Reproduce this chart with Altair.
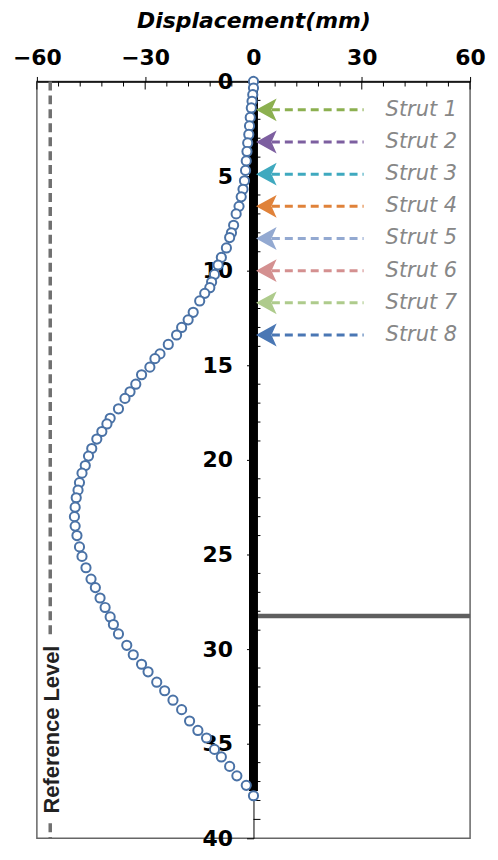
import altair as alt
import pandas as pd

# ---- data ----
depth = [0.0, 0.35, 0.7, 1.05, 1.4, 1.9, 2.35, 2.8, 3.25, 3.7, 4.2, 4.7, 5.25, 5.7, 6.1,
         6.6, 7.0, 7.6, 8.0, 8.25, 8.8, 9.3, 9.7, 10.2, 10.6, 10.9, 11.2, 11.6, 12.2, 12.6,
         13.0, 13.4, 13.9, 14.4, 14.65, 15.1, 15.5, 16.0, 16.4, 16.75, 17.3, 17.8, 18.1,
         18.5, 18.9, 19.4, 19.8, 20.3, 20.7, 21.2, 21.6, 22.0, 22.5, 23.0, 23.5, 24.0, 24.6,
         25.1, 25.7, 26.3, 26.75, 27.3, 27.8, 28.3, 28.7, 29.2, 29.8, 30.3, 30.8, 31.2,
         31.75, 32.2, 32.7, 33.2, 33.8, 34.3, 34.7, 35.3, 35.7, 36.2, 36.7, 37.2, 37.75]
disp = [0.0, 0.0, -0.2, -0.4, -0.6, -0.9, -1.1, -1.3, -1.6, -1.8, -2.0, -2.2, -2.5, -2.9, -3.4,
        -4.0, -4.8, -5.5, -6.1, -6.6, -7.5, -8.9, -9.8, -10.8, -11.6, -12.1, -13.5, -14.9, -16.7, -18.1,
        -19.9, -21.3, -23.6, -25.9, -27.3, -28.7, -31.0, -32.6, -34.2, -35.6, -37.4, -39.7, -40.6,
        -42.0, -43.4, -44.8, -45.7, -46.6, -47.5, -48.2, -48.6, -49.1, -49.4, -49.6, -49.4, -48.9, -48.2,
        -47.5, -46.4, -45.0, -43.8, -42.5, -41.1, -39.7, -38.8, -37.4, -35.1, -33.3, -31.0, -29.2,
        -26.8, -24.6, -22.3, -19.9, -17.7, -15.4, -13.0, -10.8, -8.9, -6.6, -4.6, -2.0, 0.0]

strut_names = ["Strut 1", "Strut 2", "Strut 3", "Strut 4", "Strut 5", "Strut 6", "Strut 7", "Strut 8"]
strut_depths = [1.5, 3.2, 4.9, 6.6, 8.3, 10.0, 11.7, 13.4]
strut_colors = ["#8cb050", "#7d5fa0", "#3fa9bf", "#e0823a", "#93a9d1", "#d49090", "#aecb8c", "#4a77b4"]

x_major = [-60, -30, 0, 30, 60]
x_minor = [-54, -48, -42, -36, -24, -18, -12, -6, 6, 12, 18, 24, 36, 42, 48, 54]
y_major = [0, 5, 10, 15, 20, 25, 30, 35, 40]
y_minor = [1, 2, 3, 4, 6, 7, 8, 9, 11, 12, 13, 14, 16, 17, 18, 19, 21, 22, 23, 24,
           26, 27, 28, 29, 31, 32, 33, 34, 36, 37, 38, 39]

wall_top, wall_bottom = 0.0, 37.5
excavation_depth = 28.25
ref_x = -56.3
ref_seg_start = [0.0, 39.2]
ref_seg_end = [29.4, 40.0]
ref_label_depth = 34.25
ref_label_x = -55.9

arrow_x = 3.56
dash_x_start = 5.1
dash_x_end = 30.5
label_x = 36.6

W, H = 435, 760
xs = alt.Scale(domain=[-60, 60], nice=False, zero=False)
ys = alt.Scale(domain=[0, 40], nice=False, zero=False, reverse=True)

x_axis = alt.Axis(
    orient="top", values=x_major, format="d", grid=False,
    labelFont="DejaVu Sans", labelFontSize=22, labelFontWeight="bold", labelColor="black",
    labelFlush=False, labelPadding=7, tickSize=5, tickColor="black",
    domainColor="black", domainWidth=1.5,
    title="Displacement(mm)", titleFont="DejaVu Sans", titleFontSize=22,
    titleFontWeight="bold", titleFontStyle="italic", titleColor="black",
    titleBaseline="alphabetic", titleY=-54)
y_axis = alt.Axis(
    orient="left", offset=-217.5, values=y_major, format="d", grid=False,
    labelFont="DejaVu Sans", labelFontSize=22, labelFontWeight="bold", labelColor="black",
    labelFlush=False, labelPadding=14, tickSize=7, tickColor="black",
    domainColor="black", domainWidth=1, title=None)


def X(f):
    return alt.X(f, scale=xs, axis=x_axis)


def Y(f):
    return alt.Y(f, scale=ys, axis=y_axis)


pts = pd.DataFrame({"depth": depth, "disp": disp})
struts = pd.DataFrame({"name": strut_names, "depth": strut_depths, "color": strut_colors,
                       "ax": arrow_x, "d0": dash_x_start, "d1": dash_x_end, "lx": label_x})

circles = alt.Chart(pts).mark_point(
    shape="circle", filled=True, fill="white", stroke="#4a72a6", strokeWidth=2,
    size=85, opacity=1
).encode(x=X("disp:Q"), y=Y("depth:Q"))

wall = alt.Chart(pd.DataFrame({"x": [0.0], "y": [wall_top], "y2": [wall_bottom]})).mark_rule(
    color="black", strokeWidth=9
).encode(x=X("x:Q"), y=Y("y:Q"), y2="y2:Q")

exc = alt.Chart(pd.DataFrame({"x": [0.0], "x2": [60.0], "y": [excavation_depth]})).mark_rule(
    color="#5f5f5f", strokeWidth=4.5
).encode(x=X("x:Q"), x2="x2:Q", y=Y("y:Q"))

ref = alt.Chart(pd.DataFrame({"x": [ref_x, ref_x], "y": ref_seg_start, "y2": ref_seg_end})).mark_rule(
    color="#707070", strokeWidth=3.5, strokeDash=[9, 5]
).encode(x=X("x:Q"), y=Y("y:Q"), y2="y2:Q")

ref_text = alt.Chart(pd.DataFrame({"x": [ref_label_x], "y": [ref_label_depth], "t": ["Reference Level"]})).mark_text(
    angle=270, align="center", baseline="middle", font="Liberation Sans", fontSize=22,
    fontWeight="bold", color="#222222"
).encode(x=X("x:Q"), y=Y("y:Q"), text="t:N")

xminor = alt.Chart(pd.DataFrame({"x": x_minor})).mark_tick(
    orient="vertical", size=5, thickness=1, color="black", yOffset=2.5, opacity=1
).encode(x=X("x:Q"), y=alt.value(0))

xmajor_in = alt.Chart(pd.DataFrame({"x": x_major})).mark_tick(
    orient="vertical", size=8, thickness=1, color="black", yOffset=4, opacity=1
).encode(x=X("x:Q"), y=alt.value(0))

yminor = alt.Chart(pd.DataFrame({"y": y_minor, "x": 0.0})).mark_tick(
    orient="horizontal", size=7, thickness=1, color="black", xOffset=3.5, opacity=1
).encode(x=X("x:Q"), y=Y("y:Q"))

dash = alt.Chart(struts).mark_rule(strokeWidth=3, strokeDash=[8, 5]).encode(
    x=X("d0:Q"), x2="d1:Q", y=Y("depth:Q"),
    color=alt.Color("color:N", scale=None))

arrow_path = "M -0.9 0 L 0.9 -1 L 0.45 0 L 0.9 1 Z"
arrows = alt.Chart(struts).mark_point(
    shape=arrow_path, filled=True, size=529, opacity=1, strokeWidth=0
).encode(x=X("ax:Q"), y=Y("depth:Q"), color=alt.Color("color:N", scale=None))

labels = alt.Chart(struts).mark_text(
    align="left", baseline="middle", font="DejaVu Sans", fontSize=21, fontStyle="italic",
    color="#878787"
).encode(x=X("lx:Q"), y=Y("depth:Q"), text="name:N")

chart = alt.layer(
    exc, wall, ref, ref_text, xminor, xmajor_in, yminor, circles, dash, arrows, labels
).properties(
    width=W, height=H,
    autosize=alt.AutoSizeParams(type="none"),
    padding={"left": 29, "top": 72, "right": 20, "bottom": 15},
).configure_view(stroke="#666666", strokeWidth=1.5)

chart.save("out.html", embed_options={"renderer": "svg", "actions": False})
